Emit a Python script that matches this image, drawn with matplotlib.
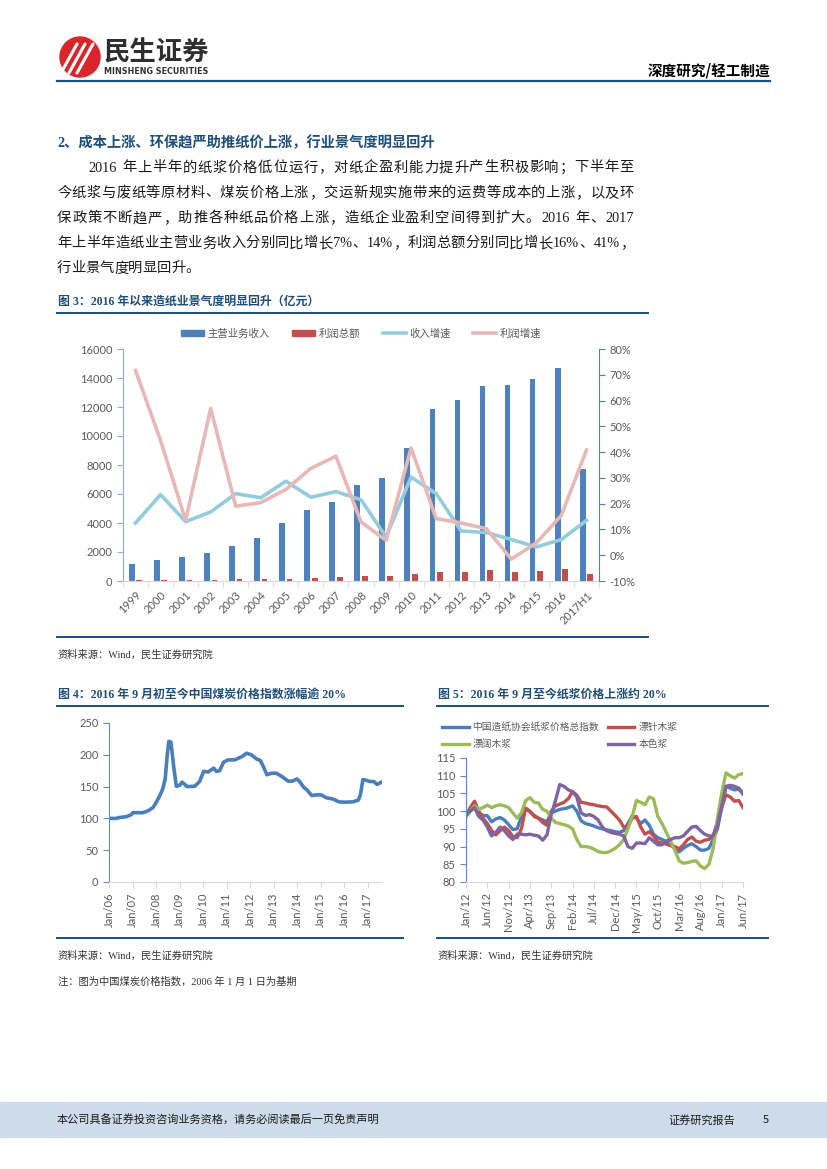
import re
import matplotlib
matplotlib.use('Agg')
import matplotlib.pyplot as plt
from matplotlib.patches import Circle, Rectangle, Patch
from matplotlib.lines import Line2D

W, H = 827, 1169
SERIF = ['Liberation Serif', 'Noto Sans CJK SC']
SANS = ['Lato', 'Noto Sans CJK SC']
plt.rcParams['font.family'] = SANS

# ---------------- data: figure 3 ----------------
years = ['1999', '2000', '2001', '2002', '2003', '2004', '2005', '2006', '2007', '2008',
         '2009', '2010', '2011', '2012', '2013', '2014', '2015', '2016', '2017H1']
revenue = [1200, 1480, 1680, 1920, 2430, 2990, 4020, 4900, 5480, 6630,
           7100, 9150, 11870, 12470, 13460, 13520, 13920, 14690, 7720]
profit = [40, 70, 80, 100, 110, 140, 170, 220, 290, 330,
          330, 490, 630, 650, 750, 650, 720, 810, 470]
rev_growth = [12.5, 23.5, 13.0, 16.8, 23.9, 22.3, 28.7, 22.5, 24.7, 21.5,
              7.1, 30.3, 23.9, 9.4, 8.8, 6.1, 3.2, 6.1, 13.5]
profit_growth = [71.7, 44.5, 13.5, 56.9, 19.0, 20.4, 25.5, 33.7, 38.4, 12.9,
                 5.8, 41.6, 14.2, 12.5, 10.3, -1.5, 4.8, 15.5, 40.8]

# ---------------- data: figure 4 (coal price index) ----------------
coal_t = [2006.00, 2006.31, 2006.45, 2006.74, 2006.95, 2007.02, 2007.44, 2007.66, 2007.87,
          2007.98, 2008.15, 2008.29, 2008.39, 2008.48, 2008.54, 2008.63, 2008.75, 2008.86,
          2009.00, 2009.10, 2009.22, 2009.31, 2009.64, 2009.85, 2010.02, 2010.21, 2010.35,
          2010.45, 2010.56, 2010.70, 2010.87, 2011.06, 2011.34, 2011.52, 2011.69, 2011.84,
          2012.05, 2012.26, 2012.43, 2012.57, 2012.71, 2012.90, 2013.11, 2013.32, 2013.61,
          2013.79, 2013.99, 2014.10, 2014.27, 2014.41, 2014.61, 2014.81, 2015.02, 2015.23,
          2015.52, 2015.77, 2016.01, 2016.37, 2016.59, 2016.68, 2016.79, 2016.93, 2017.08,
          2017.25, 2017.39, 2017.57]
coal_idx = [100, 100, 101.5, 102.6, 106, 109, 109, 112, 117,
            123.5, 135, 147, 162.8, 202, 221, 220, 181, 150.5,
            152, 157, 153.5, 150, 150.5, 158, 174, 173, 176.5,
            179, 174, 175, 188.5, 192, 192, 195, 198, 202.5,
            200, 193.7, 191, 180.6, 168.6, 171, 171, 166.5, 158.6,
            158.6, 162, 158, 149, 145, 136, 137, 137, 132.5,
            130.4, 126, 125.5, 126, 128.8, 136.6, 161, 160, 158,
            158, 153.5, 156.8]
coal_ticks = ['Jan/06', 'Jan/07', 'Jan/08', 'Jan/09', 'Jan/10', 'Jan/11',
              'Jan/12', 'Jan/13', 'Jan/14', 'Jan/15', 'Jan/16', 'Jan/17']

# ---------------- data: figure 5 (pulp prices, monthly Jan/12 - Jun/17) ----------------
pulp_ticks = ['Jan/12', 'Jun/12', 'Nov/12', 'Apr/13', 'Sep/13', 'Feb/14', 'Jul/14',
              'Dec/14', 'May/15', 'Oct/15', 'Mar/16', 'Aug/16', 'Jan/17', 'Jun/17']
pulp_total = [99.2, 100.5, 100.8, 99.5, 98.8, 98.7, 97.0, 97.8, 98.2, 97.5, 96.2, 94.8,
              95.0, 98.5, 100.8, 99.8, 98.8, 98.0, 97.5, 97.0, 99.5, 100.0, 100.5, 100.7,
              101.0, 101.5, 100.0, 97.3, 96.5, 96.2, 95.8, 95.3, 95.0, 94.7, 94.5, 94.2,
              94.0, 94.5, 96.5, 98.7, 98.0, 96.5, 97.5, 96.0, 93.5, 92.5, 92.0, 91.5,
              90.5, 89.5, 88.5, 89.5, 90.3, 90.8, 90.0, 89.0, 89.0, 89.5, 92.0, 95.0,
              101.0, 107.0, 106.5, 106.0, 106.3, 104.8]
pulp_nbsk = [98.7, 101.0, 102.8, 100.0, 98.0, 96.5, 94.5, 93.3, 94.5, 95.5, 94.5, 92.8,
             92.5, 95.0, 100.8, 100.0, 98.5, 98.0, 96.8, 96.0, 100.0, 101.5, 102.0, 102.5,
             103.5, 105.5, 104.5, 102.5, 102.3, 102.0, 101.8, 101.5, 101.3, 101.2, 100.0, 98.8,
             97.5, 95.5, 95.8, 98.0, 98.5, 95.5, 93.5, 94.2, 93.0, 91.3, 91.0, 90.7,
             90.3, 90.0, 89.3, 90.5, 92.0, 92.7, 91.5, 91.2, 91.8, 92.0, 93.0, 97.0,
             101.0, 104.6, 104.0, 102.8, 103.0, 101.0]
pulp_hw = [98.5, 100.0, 101.5, 100.5, 101.0, 101.7, 101.0, 101.5, 101.8, 101.5, 101.0, 99.5,
           98.0, 99.5, 103.0, 103.8, 102.5, 102.3, 100.5, 100.0, 98.0, 96.8, 96.5, 96.2,
           95.8, 95.0, 92.0, 90.0, 90.0, 89.8, 89.3, 88.6, 88.3, 88.3, 88.8, 89.5,
           90.5, 92.0, 95.0, 98.5, 103.0, 102.5, 101.8, 104.0, 103.5, 98.5, 96.5, 94.0,
           91.5, 89.0, 86.0, 85.3, 85.5, 85.8, 86.0, 84.5, 83.8, 85.0, 89.5, 98.0,
           105.0, 110.8, 110.0, 109.3, 110.3, 110.6]
pulp_unbl = [98.8, 100.0, 101.0, 98.5, 97.5, 95.5, 93.0, 94.0, 95.5, 94.5, 93.0, 92.0,
             93.5, 93.5, 93.3, 93.5, 93.2, 93.0, 91.8, 93.3, 99.0, 103.0, 107.5, 107.0,
             106.0, 105.5, 104.0, 99.5, 98.8, 99.0, 98.5, 97.5, 95.5, 94.5, 94.0, 93.7,
             93.5, 93.0, 90.0, 89.5, 91.0, 91.0, 90.8, 92.5, 91.5, 90.5, 90.5, 91.5,
             92.0, 92.5, 92.5, 93.0, 94.3, 95.5, 95.7, 94.5, 93.5, 93.0, 93.0, 96.0,
             101.5, 107.0, 107.3, 107.0, 106.5, 105.0]

para = ['2016 年上半年的纸浆价格低位运行，对纸企盈利能力提升产生积极影响；下半年至',
        '今纸浆与废纸等原材料、煤炭价格上涨，交运新规实施带来的运费等成本的上涨，以及环',
        '保政策不断趋严，助推各种纸品价格上涨，造纸企业盈利空间得到扩大。2016 年、2017',
        '年上半年造纸业主营业务收入分别同比增长7%、14%，利润总额分别同比增长16%、41%，',
        '行业景气度明显回升。']

NAVY = '#1f4e79'
GRAY = '#595959'

fig = plt.figure(figsize=(8.27, 11.69), dpi=100)
page = fig.add_axes([0, 0, 1, 1])
page.set_xlim(0, W)
page.set_ylim(H, 0)
page.axis('off')

# header
page.add_patch(Circle((80, 57), 20, color='#d9262b'))
for dx in (-9, -1, 7):
    page.plot([70 + dx, 86 + dx], [73, 44], color='white', lw=2.2, solid_capstyle='round')
page.text(104, 53, '民生证券', fontsize=19, fontweight='bold', color='#2e2e2e',
          family='Noto Sans CJK SC', va='center')
page.text(104, 71, 'MINSHENG SECURITIES', fontsize=5.8, fontweight='bold', color='#333333',
          family='DejaVu Sans', va='center')
page.text(770, 70, '深度研究/轻工制造', fontsize=10.5, fontweight='bold', color='black',
          family='Noto Sans CJK SC', ha='right', va='center')
page.plot([57, 770], [81, 81], color=NAVY, lw=1.6)

page.text(57, 143, '2、成本上涨、环保趋严助推纸价上涨，行业景气度明显回升', fontsize=10.3,
          fontweight='bold', color=NAVY, family=SERIF, va='center')


def put_line(s, x0, x1, y, size, justify=True):
    toks = re.findall(r'[0-9A-Za-z%]+| |.', s)
    r = fig.canvas.get_renderer()
    ws = []
    for t in toks:
        if t == ' ':
            ws.append(size * 100 / 72 * 0.3)
        else:
            tt = page.text(0, 0, t, fontsize=size, family=SERIF)
            ws.append(tt.get_window_extent(r).width)
            tt.remove()
    gap = (x1 - x0 - sum(ws)) / (len(toks) - 1) if justify else 0
    x = x0
    for t, w in zip(toks, ws):
        if t != ' ':
            page.text(x, y, t, fontsize=size, family=SERIF, color='#1a1a1a', va='center')
        x += w + gap


for i, line in enumerate(para):
    x0 = 88 if i == 0 else 57
    put_line(line, x0, 634, 168 + i * 25.2, 10.3, justify=(i < 4))


def caption(x, y, s, x1, ybot):
    page.text(x, y, s, fontsize=8.6, fontweight='bold', color=NAVY, family=SERIF, va='center')
    page.plot([x - 1, x1], [y + 11, y + 11], color=NAVY, lw=1.4)
    page.plot([x - 1, x1], [ybot, ybot], color=NAVY, lw=1.4)
    page.text(x, ybot + 18, '资料来源：Wind，民生证券研究院', fontsize=7.4, color='#333333',
              family=SERIF, va='center')


caption(58, 302, '图 3：2016 年以来造纸业景气度明显回升（亿元）', 648, 637)
caption(58, 695, '图 4：2016 年 9 月初至今中国煤炭价格指数涨幅逾 20%', 403, 938)
caption(438, 695, '图 5：2016 年 9 月至今纸浆价格上涨约 20%', 768, 938)
page.text(58, 982, '注：图为中国煤炭价格指数，2006 年 1 月 1 日为基期', fontsize=7.4,
          color='#333333', family=SERIF, va='center')

# footer
page.add_patch(Rectangle((0, 1102), W, 35, color='#cddbea'))
page.text(57, 1120, '本公司具备证券投资咨询业务资格，请务必阅读最后一页免责声明', fontsize=8,
          color='#1a1a1a', family='Noto Sans CJK SC', va='center')
page.text(668, 1120, '证券研究报告', fontsize=8, color='#1a1a1a', family='Noto Sans CJK SC', va='center')
page.text(763, 1120, '5', fontsize=8, color='#1a1a1a', family='Noto Sans CJK SC', va='center')


def fax(x0, x1, y0, y1):
    return fig.add_axes([x0 / W, 1 - y1 / H, (x1 - x0) / W, (y1 - y0) / H])


def style(ax, left_color):
    ax.spines['top'].set_visible(False)
    ax.spines['right'].set_visible(False)
    ax.spines['left'].set_color(left_color)
    ax.spines['bottom'].set_color('#d9d9d9')
    ax.tick_params(axis='y', colors=left_color, labelcolor=GRAY, labelsize=8, length=4)
    ax.tick_params(axis='x', colors='#d9d9d9', labelcolor=GRAY, labelsize=8, length=4)


# ---------------- figure 3 ----------------
ax = fax(123, 599, 349, 581)
style(ax, '#8eaadb')
idx = list(range(len(years)))
ax.bar([i - 0.15 for i in idx], revenue, width=0.23, color='#4f81bd')
ax.bar([i + 0.15 for i in idx], profit, width=0.23, color='#c0504d')
ax.set_xlim(-0.5, len(years) - 0.5)
ax.set_ylim(0, 16000)
ax.set_yticks(range(0, 16001, 2000))
ax.set_xticks(idx)
ax.set_xticklabels(years, rotation=45, ha='right', rotation_mode='anchor')
ax.tick_params(axis='x', which='major', length=0, pad=6)
ax.set_xticks([i - 0.5 for i in range(len(years) + 1)], minor=True)
ax.tick_params(axis='x', which='minor', length=4, colors='#d9d9d9')
ax2 = ax.twinx()
ax2.plot(idx, [v / 100 for v in rev_growth], color='#93cddd', lw=2.6)
ax2.plot(idx, [v / 100 for v in profit_growth], color='#e6b9b8', lw=2.6)
ax2.set_ylim(-0.10, 0.80)
ax2.set_yticks([i / 10 for i in range(-1, 9)])
ax2.set_yticklabels(['%d%%' % (i * 10) for i in range(-1, 9)])
for s in ('top', 'left', 'bottom'):
    ax2.spines[s].set_visible(False)
ax2.spines['right'].set_color('#4f81bd')
ax2.tick_params(axis='y', colors='#4f81bd', labelcolor=GRAY, labelsize=8, length=4)
handles = [Patch(color='#4f81bd'), Patch(color='#c0504d'),
           Line2D([], [], color='#93cddd', lw=2.6), Line2D([], [], color='#e6b9b8', lw=2.6)]
ax.legend(handles, ['主营业务收入', '利润总额', '收入增速', '利润增速'], loc='lower center',
          bbox_to_anchor=(0.5, 1.0), ncol=4, frameon=False, fontsize=7.5, labelcolor=GRAY,
          handlelength=2.2, handleheight=0.6, columnspacing=2.2, handletextpad=0.3,
          borderaxespad=0.6)

# ---------------- figure 4 ----------------
ax = fax(109, 382, 723, 882)
style(ax, '#5b8bd0')
ax.plot(coal_t, coal_idx, color='#4a7ebb', lw=2.6)
ax.set_xlim(2006, 2017.6)
ax.set_ylim(0, 250)
ax.set_yticks(range(0, 251, 50))
ax.set_xticks(range(2006, 2006 + len(coal_ticks)))
ax.set_xticklabels(coal_ticks, rotation=90)

# ---------------- figure 5 ----------------
ax = fax(466, 743, 758, 882)
style(ax, '#5b8bd0')
months = list(range(len(pulp_total)))
l1, = ax.plot(months, pulp_total, color='#4a7ebb', lw=2.4)
l2, = ax.plot(months, pulp_nbsk, color='#c0504d', lw=2.4)
l3, = ax.plot(months, pulp_hw, color='#9bbb59', lw=2.4)
l4, = ax.plot(months, pulp_unbl, color='#8064a2', lw=2.4)
ax.set_xlim(0, len(pulp_total) - 1)
ax.set_ylim(80, 115)
ax.set_yticks(range(80, 116, 5))
ax.set_xticks(range(0, len(pulp_total), 5))
ax.set_xticklabels(pulp_ticks, rotation=90)
ax.legend([l1, l3, l2, l4], ['中国造纸协会纸浆价格总指数', '漂阔木浆', '漂针木浆', '本色浆'],
          loc='lower left', bbox_to_anchor=(-0.085, 1.07), ncol=2, frameon=False, fontsize=7,
          labelcolor=GRAY, handlelength=2.7, columnspacing=0.9, handletextpad=0.4,
          labelspacing=0.8, borderaxespad=0, borderpad=0)

fig.savefig('out.png', dpi=100)
